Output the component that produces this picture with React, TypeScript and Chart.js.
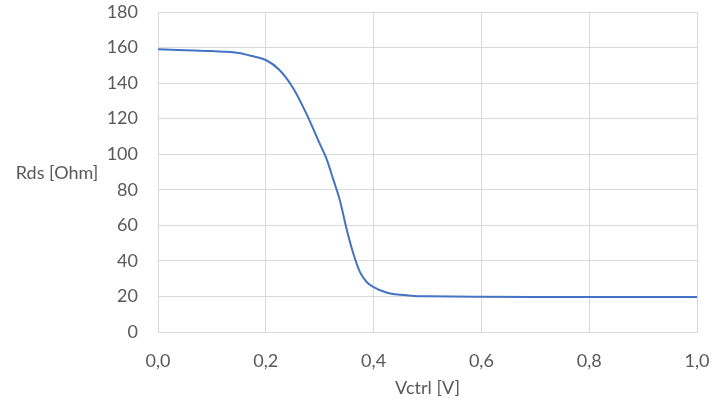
import React, { useEffect, useRef } from "react";
import { Chart, registerables } from "chart.js";

Chart.register(...registerables);

const vctrl = [0.0, 0.05, 0.1, 0.15, 0.175, 0.2, 0.225, 0.25, 0.275, 0.3, 0.3125, 0.325, 0.3375, 0.35, 0.3625, 0.375, 0.3875, 0.4, 0.425, 0.45, 0.475, 0.5, 0.6, 0.7, 0.8, 0.9, 1.0];
const rds = [159, 158.5, 158, 157, 155.2, 153, 147.5, 137.5, 123, 106, 97.5, 86, 74, 57.8, 44, 33.5, 28, 25.3, 22.1, 20.9, 20.3, 20.1, 19.8, 19.7, 19.7, 19.7, 19.7];
const xTitle = "Vctrl [V]";
const yTitle = "Rds [Ohm]";

const FONT = "Lato, 'Open Sans', sans-serif";
const TEXT = "#595959";

const titlesPlugin = {
  id: "titles",
  afterDraw(chart: any) {
    const { ctx, chartArea } = chart;
    ctx.save();
    ctx.fillStyle = TEXT;
    ctx.font = `18px ${FONT}`;
    ctx.textAlign = "center";
    ctx.textBaseline = "middle";
    ctx.fillText(xTitle, (chartArea.left + chartArea.right) / 2, chartArea.bottom + 56);
    ctx.fillText(yTitle, 57, (chartArea.top + chartArea.bottom) / 2 + 1);
    ctx.restore();
  },
};

export default function App() {
  const ref = useRef<HTMLCanvasElement>(null);
  useEffect(() => {
    document.body.style.margin = "0";
    const chart = new Chart(ref.current!, {
      type: "line",
      data: {
        datasets: [
          {
            data: vctrl.map((x, i) => ({ x, y: rds[i] })),
            borderColor: "#4472C4",
            borderWidth: 2,
            pointRadius: 0,
            cubicInterpolationMode: "monotone",
            fill: false,
          },
        ],
      },
      options: {
        responsive: false,
        animation: false,
        layout: { padding: { left: 0, right: 17, top: 12, bottom: 0 } },
        plugins: { legend: { display: false }, tooltip: { enabled: false } },
        scales: {
          x: {
            type: "linear",
            min: 0,
            max: 1,
            ticks: {
              stepSize: 0.2,
              color: TEXT,
              font: { family: FONT, size: 18 },
              padding: 18,
              maxRotation: 0,
              callback: (v: any) => Number(v).toFixed(1).replace(".", ","),
            },
            grid: { color: "#d9d9d9", drawTicks: false },
            border: { color: "#d9d9d9" },
            afterFit: (s: any) => {
              s.height = 71;
              s.paddingLeft = 0;
              s.paddingRight = 0;
            },
          },
          y: {
            min: 0,
            max: 180,
            ticks: {
              stepSize: 20,
              color: TEXT,
              font: { family: FONT, size: 18 },
              padding: 20,
            },
            grid: { color: "#d9d9d9", drawTicks: false },
            border: { color: "#d9d9d9" },
            afterFit: (s: any) => {
              s.width = 158;
              s.paddingTop = 0;
              s.paddingBottom = 0;
            },
          },
        },
      },
      plugins: [titlesPlugin],
    });
    return () => chart.destroy();
  }, []);
  return (
    <div style={{ width: 714, height: 403, background: "#fff" }}>
      <canvas ref={ref} width={714} height={403} style={{ display: "block" }} />
    </div>
  );
}
